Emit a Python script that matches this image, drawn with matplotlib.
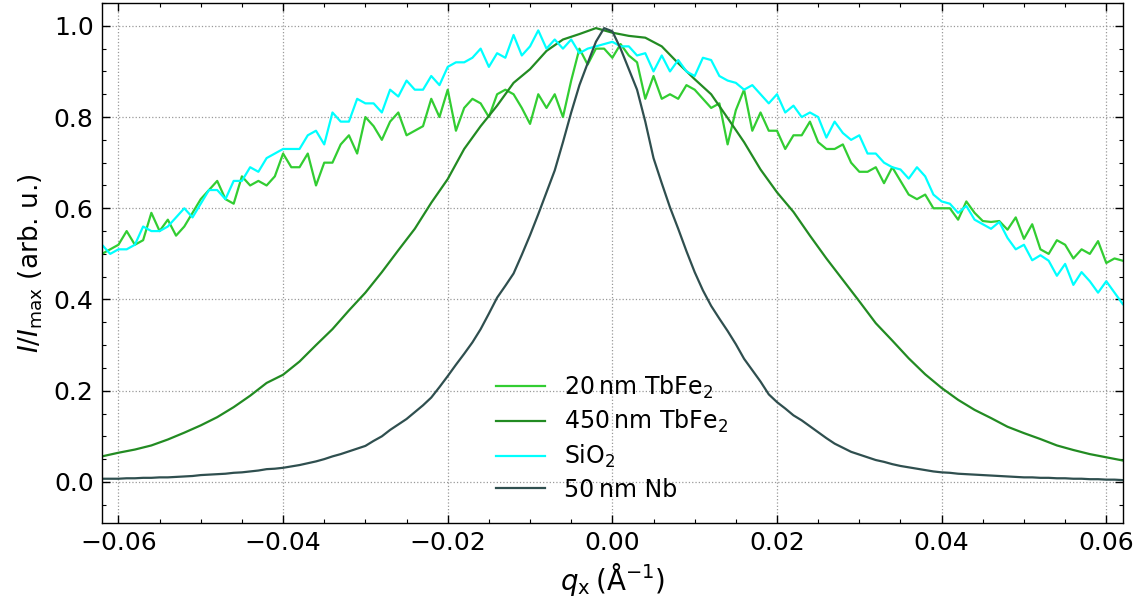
import numpy as np
import matplotlib
matplotlib.use("Agg")
import matplotlib.pyplot as plt
from matplotlib.ticker import MultipleLocator

# common q grid (1/Å), step 0.001
qx = np.round(np.arange(-0.062, 0.0625, 0.001), 4)
# coarser grid for the smooth thick-film curve
qx_coarse = np.round(np.arange(-0.062, 0.0625, 0.002), 4)

tbfe_20 = [
    0.50, 0.51, 0.52, 0.55, 0.52, 0.53, 0.59, 0.55, 0.575, 0.54,
    0.56, 0.59, 0.62, 0.64, 0.66, 0.62, 0.61, 0.67, 0.65, 0.66,
    0.65, 0.67, 0.72, 0.69, 0.69, 0.72, 0.65, 0.70, 0.70, 0.74,
    0.76, 0.72, 0.80, 0.78, 0.75, 0.79, 0.81, 0.76, 0.77, 0.78,
    0.84, 0.80, 0.86, 0.77, 0.82, 0.84, 0.83, 0.80, 0.85, 0.86,
    0.85, 0.82, 0.785, 0.85, 0.82, 0.85, 0.80, 0.88, 0.95, 0.915,
    0.95, 0.95, 0.93, 0.96, 0.935, 0.92, 0.84, 0.89, 0.84, 0.85,
    0.84, 0.87, 0.86, 0.84, 0.82, 0.83, 0.74, 0.815, 0.86, 0.77,
    0.81, 0.77, 0.77, 0.73, 0.76, 0.76, 0.79, 0.745, 0.73, 0.73,
    0.74, 0.70, 0.68, 0.68, 0.69, 0.655, 0.69, 0.66, 0.63, 0.62,
    0.63, 0.60, 0.60, 0.60, 0.575, 0.615, 0.59, 0.572, 0.57, 0.572,
    0.553, 0.58, 0.533, 0.565, 0.51, 0.50, 0.53, 0.52, 0.49, 0.51,
    0.50, 0.528, 0.48, 0.49, 0.485,
]

sio2 = [
    0.52, 0.50, 0.51, 0.51, 0.52, 0.56, 0.55, 0.55, 0.56, 0.58,
    0.60, 0.58, 0.61, 0.64, 0.64, 0.62, 0.66, 0.66, 0.69, 0.68,
    0.71, 0.72, 0.73, 0.73, 0.73, 0.76, 0.77, 0.74, 0.81, 0.79,
    0.79, 0.84, 0.83, 0.83, 0.81, 0.86, 0.845, 0.88, 0.86, 0.86,
    0.89, 0.87, 0.91, 0.92, 0.92, 0.93, 0.95, 0.91, 0.94, 0.93,
    0.98, 0.935, 0.955, 0.99, 0.95, 0.97, 0.95, 0.97, 0.94, 0.95,
    0.955, 0.96, 0.965, 0.955, 0.955, 0.935, 0.94, 0.90, 0.935, 0.90,
    0.925, 0.90, 0.89, 0.93, 0.925, 0.89, 0.88, 0.875, 0.86, 0.87,
    0.85, 0.83, 0.85, 0.81, 0.825, 0.80, 0.81, 0.80, 0.755, 0.79,
    0.765, 0.75, 0.76, 0.72, 0.72, 0.70, 0.69, 0.685, 0.665, 0.69,
    0.67, 0.63, 0.615, 0.61, 0.59, 0.605, 0.575, 0.565, 0.555, 0.57,
    0.535, 0.51, 0.52, 0.486, 0.497, 0.485, 0.452, 0.478, 0.432, 0.46,
    0.44, 0.415, 0.44, 0.415, 0.39,
]

nb_50 = [
    0.007, 0.007, 0.007, 0.008, 0.008, 0.009, 0.009, 0.010, 0.010, 0.011,
    0.012, 0.013, 0.015, 0.016, 0.017, 0.018, 0.020, 0.021, 0.023, 0.025,
    0.028, 0.029, 0.031, 0.034, 0.037, 0.041, 0.045, 0.050, 0.056, 0.061,
    0.067, 0.073, 0.079, 0.090, 0.100, 0.114, 0.126, 0.138, 0.153, 0.168,
    0.185, 0.208, 0.232, 0.257, 0.281, 0.306, 0.335, 0.369, 0.404, 0.430,
    0.457, 0.498, 0.541, 0.587, 0.635, 0.683, 0.745, 0.810, 0.870, 0.918,
    0.965, 0.995, 0.988, 0.950, 0.905, 0.860, 0.790, 0.710, 0.655, 0.602,
    0.555, 0.506, 0.460, 0.420, 0.386, 0.358, 0.331, 0.302, 0.270, 0.245,
    0.220, 0.192, 0.175, 0.161, 0.146, 0.135, 0.122, 0.109, 0.096, 0.084,
    0.075, 0.066, 0.060, 0.054, 0.048, 0.044, 0.039, 0.035, 0.032, 0.029,
    0.026, 0.023, 0.021, 0.020, 0.018, 0.017, 0.016, 0.015, 0.014, 0.013,
    0.012, 0.011, 0.010, 0.010, 0.009, 0.009, 0.008, 0.008, 0.007, 0.007,
    0.006, 0.006, 0.005, 0.005, 0.004,
]

tbfe_450 = [
    0.056, 0.064, 0.071, 0.080, 0.093, 0.108, 0.124, 0.142, 0.164, 0.189,
    0.217, 0.235, 0.264, 0.300, 0.335, 0.376, 0.415, 0.460, 0.508, 0.555,
    0.612, 0.664, 0.730, 0.780, 0.825, 0.875, 0.905, 0.945, 0.970, 0.982,
    0.995, 0.985, 0.978, 0.974, 0.955, 0.918, 0.883, 0.850, 0.798, 0.745,
    0.685, 0.635, 0.592, 0.540, 0.490, 0.443, 0.396, 0.348, 0.310, 0.271,
    0.236, 0.206, 0.180, 0.158, 0.140, 0.121, 0.107, 0.094, 0.080, 0.070,
    0.061, 0.054, 0.047,
]

plt.rcParams['font.family'] = ['DejaVu Sans']
plt.rcParams['mathtext.fontset'] = 'dejavusans'

fig = plt.figure(figsize=(11.38, 6.06), dpi=100)
ax = fig.add_axes([0.0896, 0.137, 0.897, 0.858])

ax.plot(qx, tbfe_20, color='limegreen', lw=1.6, label="20\u2009nm TbFe$_2$")
ax.plot(qx_coarse, tbfe_450, color='forestgreen', lw=1.6, label="450\u2009nm TbFe$_2$")
ax.plot(qx, sio2, color='cyan', lw=1.6, label="SiO$_2$")
ax.plot(qx, nb_50, color='darkslategray', lw=1.6, label="50\u2009nm Nb")

ax.set_xlim(-0.062, 0.062)
ax.set_ylim(-0.09, 1.05)
ax.xaxis.set_major_locator(MultipleLocator(0.02))
ax.xaxis.set_minor_locator(MultipleLocator(0.005))
ax.yaxis.set_major_locator(MultipleLocator(0.2))
ax.yaxis.set_minor_locator(MultipleLocator(0.05))
ax.xaxis.set_major_formatter(plt.FuncFormatter(lambda v, p: f"{v:.2f}".replace("-", "\u2212")))
ax.yaxis.set_major_formatter(plt.FuncFormatter(lambda v, p: f"{v:.1f}".replace("-", "\u2212")))

ax.tick_params(which='both', direction='in', top=True, right=True, labelsize=18, pad=6)
ax.tick_params(which='major', length=6, width=1)
ax.tick_params(which='minor', length=3, width=0.8)
for s in ax.spines.values():
    s.set_linewidth(1.0)

ax.grid(True, which='major', linestyle=':', color='gray', lw=0.9, alpha=0.8)

ax.set_xlabel("$q_\\mathrm{x}$\u2009(Å$^{-1}$)", fontsize=20, labelpad=4)
ax.set_ylabel("$I/I_\\mathrm{max}$ (arb. u.)", fontsize=19, labelpad=6)

ax.legend(loc='lower left', bbox_to_anchor=(0.365, 0.0), frameon=False,
          fontsize=17, handlelength=2.1, handletextpad=0.8, labelspacing=0.32)

fig.savefig("out.png", dpi=100)
